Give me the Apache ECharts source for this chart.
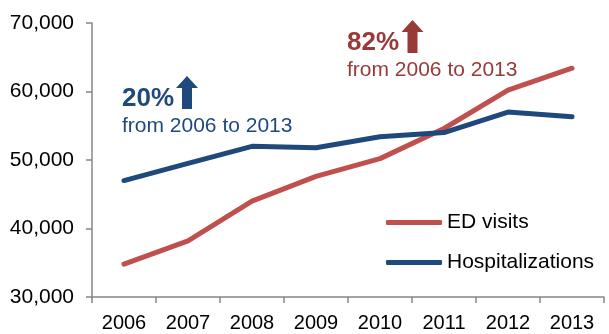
<!DOCTYPE html>
<html>
<head>
    <meta charset="utf-8">
    <title>ED visits and Hospitalizations, 2006-2013</title>
    <script src="https://cdn.jsdelivr.net/npm/echarts@6/dist/echarts.min.js"></script>
    <style>
        body, html { margin: 0; padding: 0; width: 100%; height: 100%; overflow: hidden; background: #fff; }
        #main { width: 609px; height: 334px; }
    </style>
</head>
<body>
    <div id="main"></div>
    <script>
        // data
        const years = ['2006', '2007', '2008', '2009', '2010', '2011', '2012', '2013'];
        const edVisits = [34800, 38200, 44000, 47600, 50200, 54600, 60200, 63400];
        const hospitalizations = [47000, 49500, 52000, 51800, 53400, 54000, 57000, 56300];
        const seriesNames = ['ED visits', 'Hospitalizations'];

        const RED = '#C0504D', BLUE = '#1F497D', RED_TXT = '#983A38';
        const FONT = '"Liberation Sans", Arial, sans-serif';

        var myChart = echarts.init(document.getElementById('main'));

        // up arrow polygon centred on cx, from top to bottom
        function arrow(cx, top, bottom, color) {
            return {
                type: 'polygon',
                shape: {
                    points: [
                        [cx, top], [cx + 11, top + 12], [cx + 5, top + 12], [cx + 5, bottom],
                        [cx - 5, bottom], [cx - 5, top + 12], [cx - 11, top + 12]
                    ]
                },
                style: { fill: color }
            };
        }

        function label(x, y, text, size, weight, color) {
            return {
                type: 'text',
                style: {
                    x: x, y: y, text: text, fill: color,
                    font: weight + ' ' + size + 'px ' + FONT,
                    verticalAlign: 'middle'
                }
            };
        }

        const option = {
            backgroundColor: '#fff',
            animation: false,
            textStyle: { fontFamily: FONT },
            grid: { left: 92, right: 5, top: 23, bottom: 37, containLabel: false },
            legend: {
                data: seriesNames,
                orient: 'vertical',
                left: 381,
                top: 207,
                itemGap: 19,
                itemWidth: 56,
                itemHeight: 5,
                icon: 'roundRect',
                textStyle: { color: '#000', fontSize: 21, fontFamily: FONT }
            },
            xAxis: {
                type: 'category',
                data: years,
                boundaryGap: true,
                axisLine: { lineStyle: { color: '#868686', width: 1.5 } },
                axisTick: { show: true, length: 6, lineStyle: { color: '#868686', width: 1.5 } },
                axisLabel: { color: '#000', fontSize: 20, margin: 16, fontFamily: FONT },
                splitLine: { show: false }
            },
            yAxis: {
                type: 'value',
                min: 30000,
                max: 70000,
                interval: 10000,
                axisLine: { show: true, lineStyle: { color: '#868686', width: 1.5 } },
                axisTick: { show: true, length: 6, lineStyle: { color: '#868686', width: 1.5 } },
                axisLabel: {
                    color: '#000', fontSize: 21, margin: 18, fontFamily: FONT,
                    formatter: v => v.toLocaleString('en-US')
                },
                splitLine: { show: false }
            },
            series: [
                {
                    name: seriesNames[0],
                    type: 'line',
                    data: edVisits,
                    symbol: 'none',
                    color: RED,
                    lineStyle: { color: RED, width: 5, cap: 'round', join: 'round' }
                },
                {
                    name: seriesNames[1],
                    type: 'line',
                    data: hospitalizations,
                    symbol: 'none',
                    color: BLUE,
                    lineStyle: { color: BLUE, width: 5, cap: 'round', join: 'round' }
                }
            ],
            graphic: [
                label(122, 98.5, '20%', 26, 'bold', BLUE),
                arrow(187, 76, 109, BLUE),
                label(122, 126.5, 'from 2006 to 2013', 21, 'normal', BLUE),
                label(347, 42.5, '82%', 26, 'bold', RED_TXT),
                arrow(412.5, 20, 53, RED_TXT),
                label(347, 70, 'from 2006 to 2013', 21, 'normal', RED_TXT)
            ]
        };

        myChart.setOption(option);
    </script>
</body>
</html>
